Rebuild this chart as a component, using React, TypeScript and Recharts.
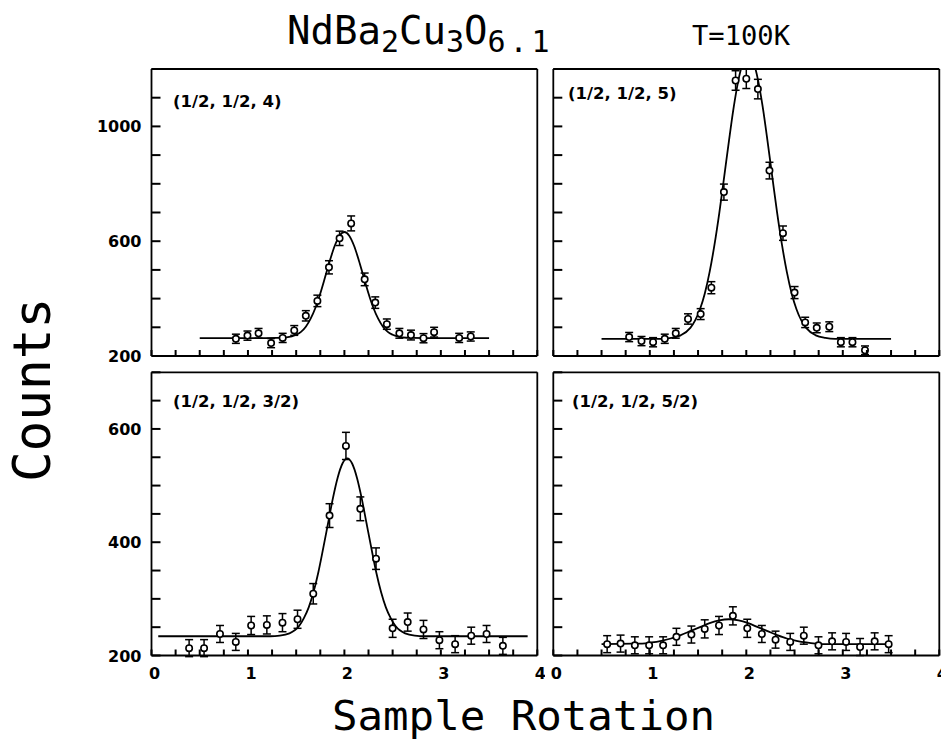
import React from 'react';
import { ComposedChart, Scatter, Line, XAxis, YAxis, ErrorBar } from 'recharts';

// ---- axis ticks ----
const xTicks = [0, 0.25, 0.5, 0.75, 1, 1.25, 1.5, 1.75, 2, 2.25, 2.5, 2.75, 3, 3.25, 3.5, 3.75, 4];
const xLabeled = [0, 1, 2, 3, 4];
const yTicksTop = [200, 300, 400, 500, 600, 700, 800, 900, 1000, 1100, 1200];
const yLabeledTop = [200, 600, 1000];
const yTicksBottom = [200, 250, 300, 350, 400, 450, 500, 550, 600, 650, 700];
const yLabeledBottom = [200, 400, 600];

// ---- (1/2, 1/2, 4) ----
const p4X = [0.875, 0.995, 1.11, 1.24, 1.36, 1.48, 1.6, 1.72, 1.84, 1.95, 2.07, 2.21, 2.32, 2.44, 2.57, 2.69, 2.82, 2.93, 3.19, 3.31];
const p4Y = [260, 271, 279, 245, 263, 289, 340, 392, 509, 610, 662, 467, 386, 311, 279, 273, 262, 283, 263, 268];
const p4Err = [16, 16, 17, 16, 16, 17, 18, 20, 23, 25, 26, 22, 20, 18, 17, 17, 16, 17, 16, 16];
const p4FitX = [0.5, 1.0, 1.3, 1.4, 1.5, 1.55, 1.6, 1.65, 1.7, 1.75, 1.8, 1.85, 1.9, 1.95, 2.0, 2.05, 2.1, 2.15, 2.2, 2.25, 2.3, 2.35, 2.4, 2.45, 2.5, 2.6, 2.7, 3.0, 3.5];
const p4FitY = [262, 262, 263, 265, 274, 284, 302, 330, 368, 418, 475, 533, 584, 619, 632, 619, 584, 533, 475, 418, 368, 330, 302, 284, 274, 265, 263, 262, 262];

// ---- (1/2, 1/2, 5) ----
const p5X = [0.786, 0.914, 1.034, 1.155, 1.269, 1.396, 1.527, 1.638, 1.768, 1.889, 2.0, 2.12, 2.24, 2.38, 2.5, 2.61, 2.73, 2.86, 2.98, 3.1, 3.23];
const p5Y = [266, 252, 248, 260, 279, 329, 346, 438, 771, 1160, 1166, 1130, 846, 628, 421, 317, 298, 302, 248, 248, 220];
const p5Err = [16, 16, 16, 16, 17, 18, 19, 21, 28, 34, 34, 34, 29, 25, 21, 18, 17, 17, 16, 16, 15];
const p5FitX = [0.5, 1.0, 1.12, 1.22, 1.32, 1.42, 1.47, 1.52, 1.57, 1.62, 1.67, 1.72, 1.77, 1.82, 1.87, 1.92, 1.97, 2.02, 2.07, 2.12, 2.17, 2.22, 2.27, 2.32, 2.37, 2.42, 2.47, 2.52, 2.57, 2.62, 2.72, 2.82, 2.92, 3.5];
const p5FitY = [260, 260, 260, 263, 272, 298, 324, 363, 418, 493, 587, 698, 822, 949, 1068, 1164, 1228, 1250, 1228, 1164, 1068, 949, 822, 698, 587, 493, 418, 363, 324, 298, 272, 263, 260, 260];

// ---- (1/2, 1/2, 3/2) ----
const p32X = [0.39, 0.545, 0.71, 0.874, 1.033, 1.196, 1.358, 1.514, 1.677, 1.846, 2.016, 2.165, 2.328, 2.5, 2.656, 2.82, 2.985, 3.148, 3.315, 3.474, 3.643];
const p32Y = [213, 213, 238, 224, 253, 254, 258, 264, 309, 447, 570, 459, 371, 248, 259, 246, 227, 220, 235, 238, 217];
const p32Err = [15, 15, 15, 15, 16, 16, 16, 16, 18, 21, 24, 21, 19, 16, 16, 16, 15, 15, 15, 15, 15];
const p32FitX = [0.07, 1.0, 1.23, 1.33, 1.43, 1.53, 1.58, 1.63, 1.68, 1.73, 1.78, 1.83, 1.88, 1.93, 1.98, 2.03, 2.08, 2.13, 2.18, 2.23, 2.28, 2.33, 2.38, 2.43, 2.48, 2.53, 2.63, 2.73, 2.83, 3.9];
const p32FitY = [234, 234, 234, 235, 239, 252, 266, 285, 312, 347, 389, 433, 477, 514, 539, 548, 539, 514, 477, 433, 389, 347, 312, 285, 266, 252, 239, 235, 234, 234];

// ---- (1/2, 1/2, 5/2) ----
const p52X = [0.558, 0.697, 0.845, 0.993, 1.138, 1.276, 1.431, 1.569, 1.717, 1.861, 2.01, 2.161, 2.303, 2.455, 2.596, 2.748, 2.889, 3.034, 3.179, 3.33, 3.475];
const p52Y = [220, 221, 218, 218, 218, 233, 237, 247, 253, 270, 248, 238, 228, 224, 235, 218, 225, 224, 215, 225, 220];
const p52Err = [15, 15, 15, 15, 15, 15, 15, 16, 16, 16, 16, 15, 15, 15, 15, 15, 15, 15, 15, 15, 15];
const p52FitX = [0.5, 0.82, 0.92, 1.02, 1.12, 1.22, 1.32, 1.42, 1.52, 1.62, 1.72, 1.82, 1.92, 2.02, 2.12, 2.22, 2.32, 2.42, 2.52, 2.62, 2.72, 2.82, 3.5];
const p52FitY = [220, 221, 221, 223, 226, 230, 236, 243, 250, 257, 262, 264, 262, 257, 250, 243, 236, 230, 226, 223, 221, 220, 220];

const TICK_FONT = '"DejaVu Sans", sans-serif';
const PLOT_FONT = '"DejaVu Sans Mono", monospace';
const AXIS_LINE = { stroke: '#000', strokeWidth: 1.8 };

const pts = (xs: number[], ys: number[], es: number[]) => xs.map((x, i) => ({ x, y: ys[i], err: es[i] }));
const fit = (xs: number[], ys: number[]) => xs.map((x, i) => ({ x, y: ys[i] }));

const Dot = (props: any) => (
  <circle cx={props.cx} cy={props.cy} r={3.2} fill="#fff" stroke="#000" strokeWidth={1.6} />
);

type PanelProps = {
  left: number; top: number; width: number; height: number;
  plotLeft: number; plotRight: number; plotTop: number; plotBottom: number;
  yDomain: [number, number]; yTicks: number[]; yLabels: number[];
  showY: boolean; showX: boolean;
  points: { x: number; y: number; err: number }[];
  fitData: { x: number; y: number }[];
};

function Panel(p: PanelProps) {
  const xTick = (props: any) => {
    const { x, y, payload } = props;
    const v = payload.value;
    return (
      <g>
        <line x1={x} y1={y} x2={x} y2={y - 6} stroke="#000" strokeWidth={2} />
        {p.showX && xLabeled.includes(v) ? (
          <text x={x + 3} y={y + 23} textAnchor="middle" fontFamily={TICK_FONT} fontWeight="bold" fontSize={16} fill="#000">
            {v}
          </text>
        ) : null}
      </g>
    );
  };
  const yTick = (props: any) => {
    const { x, y, payload } = props;
    const v = payload.value;
    return (
      <g>
        <line x1={x} y1={y} x2={x + 9} y2={y} stroke="#000" strokeWidth={2} />
        {p.showY && p.yLabels.includes(v) ? (
          <text x={x - 10} y={y + 6} textAnchor="end" fontFamily={TICK_FONT} fontWeight="bold" fontSize={16} fill="#000">
            {v}
          </text>
        ) : null}
      </g>
    );
  };
  // every axis is 1px thick so that it renders; margins compensate
  const margin = {
    top: p.plotTop - p.top - 1,
    left: p.plotLeft - p.left - 1,
    right: p.left + p.width - p.plotRight - 1,
    bottom: p.top + p.height - p.plotBottom - 1,
  };
  return (
    <div style={{ position: 'absolute', left: p.left, top: p.top }}>
      <ComposedChart width={p.width} height={p.height} margin={margin}>
        <XAxis dataKey="x" type="number" domain={[0, 4]} ticks={xTicks} interval={0} height={1}
          tickSize={0} tickMargin={0} axisLine={AXIS_LINE} tickLine={false} tick={xTick} allowDataOverflow />
        <XAxis xAxisId="top" orientation="top" type="number" domain={[0, 4]} height={1}
          tick={false} tickLine={false} axisLine={AXIS_LINE} allowDataOverflow />
        <YAxis type="number" domain={p.yDomain} ticks={p.yTicks} interval={0} width={1}
          tickSize={0} tickMargin={0} axisLine={AXIS_LINE} tickLine={false} tick={yTick} allowDataOverflow />
        <YAxis yAxisId="right" orientation="right" type="number" domain={p.yDomain} width={1}
          tick={false} tickLine={false} axisLine={AXIS_LINE} allowDataOverflow />
        <Line data={p.fitData} dataKey="y" type="monotone" dot={false} activeDot={false}
          stroke="#000" strokeWidth={1.8} isAnimationActive={false} />
        <Scatter data={p.points} dataKey="y" shape={Dot} isAnimationActive={false}>
          <ErrorBar dataKey="err" direction="y" width={4} stroke="#000" strokeWidth={1.5} isAnimationActive={false} />
        </Scatter>
      </ComposedChart>
    </div>
  );
}

export default function App() {
  return (
    <div style={{ position: 'absolute', left: 0, top: 0, width: 941, height: 740, background: '#fff', overflow: 'hidden' }}>
      <Panel left={0} top={0} width={545} height={365}
        plotLeft={151.5} plotRight={537.3} plotTop={69} plotBottom={356}
        yDomain={[200, 1200]} yTicks={yTicksTop} yLabels={yLabeledTop} showY showX={false}
        points={pts(p4X, p4Y, p4Err)} fitData={fit(p4FitX, p4FitY)} />
      <Panel left={540} top={0} width={401} height={365}
        plotLeft={553.3} plotRight={939.3} plotTop={69} plotBottom={356}
        yDomain={[200, 1200]} yTicks={yTicksTop} yLabels={yLabeledTop} showY={false} showX={false}
        points={pts(p5X, p5Y, p5Err)} fitData={fit(p5FitX, p5FitY)} />
      <Panel left={0} top={360} width={545} height={330}
        plotLeft={151.5} plotRight={537.3} plotTop={372.3} plotBottom={655.5}
        yDomain={[200, 700]} yTicks={yTicksBottom} yLabels={yLabeledBottom} showY showX
        points={pts(p32X, p32Y, p32Err)} fitData={fit(p32FitX, p32FitY)} />
      <Panel left={540} top={360} width={401} height={330}
        plotLeft={553.3} plotRight={939.3} plotTop={372.3} plotBottom={655.5}
        yDomain={[200, 700]} yTicks={yTicksBottom} yLabels={yLabeledBottom} showY={false} showX
        points={pts(p52X, p52Y, p52Err)} fitData={fit(p52FitX, p52FitY)} />

      <svg width={941} height={740} style={{ position: 'absolute', left: 0, top: 0, pointerEvents: 'none' }}>
        <g fontFamily={TICK_FONT} fontWeight="bold" fontSize={16.5} fill="#000">
          <text x={173} y={107}>(1/2, 1/2, 4)</text>
          <text x={568} y={99}>(1/2, 1/2, 5)</text>
          <text x={173} y={407}>(1/2, 1/2, 3/2)</text>
          <text x={572} y={407}>(1/2, 1/2, 5/2)</text>
        </g>
        <text x={287} y={44} fontFamily={PLOT_FONT} fontSize={39} fill="#000">
          NdBa<tspan dy={8} fontSize={30}>2</tspan><tspan dy={-8}>Cu</tspan><tspan dy={8} fontSize={30}>3</tspan><tspan dy={-8}>O</tspan><tspan dy={8} fontSize={30} letterSpacing={4}>6.1</tspan>
        </text>
        <text x={692} y={45} fontFamily={PLOT_FONT} fontSize={26} fill="#000" textLength={98} lengthAdjust="spacingAndGlyphs">T=100K</text>
        <text x={50} y={390} transform="rotate(-90 50 390)" textAnchor="middle" fontFamily={PLOT_FONT} fontSize={51} fill="#000">Counts</text>
        <text x={332} y={730} fontFamily={PLOT_FONT} fontSize={40} fill="#000" textLength={383} lengthAdjust="spacingAndGlyphs">Sample Rotation</text>
      </svg>
    </div>
  );
}
